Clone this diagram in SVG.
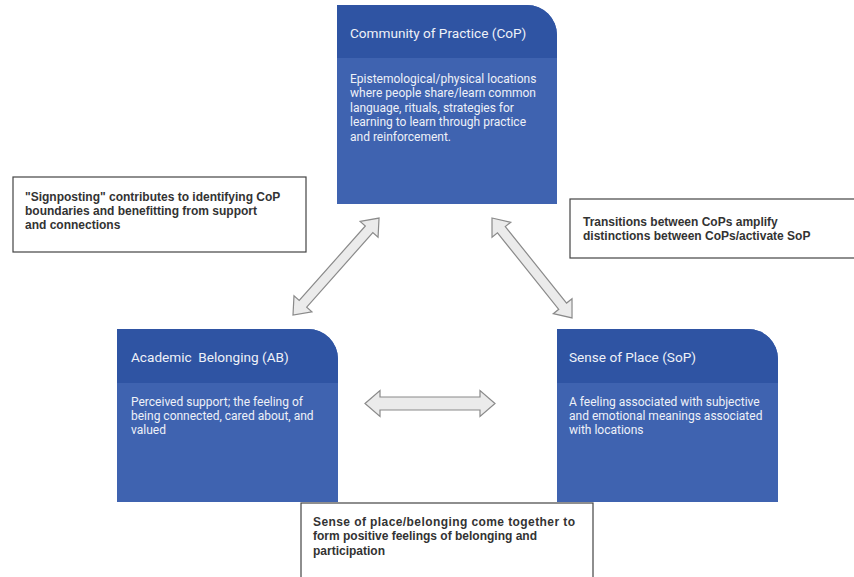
<svg xmlns="http://www.w3.org/2000/svg" width="854" height="577" viewBox="0 0 854 577">
<style>
.hdr{fill:#2f54a3}
.body{fill:#3f63b0}
.ttl{font-family:Roboto,"Liberation Sans",sans-serif;font-size:13.6px;fill:#eef1f8;white-space:pre}
.txt{font-family:Roboto,"Liberation Sans",sans-serif;font-size:12px;fill:#eef1f8}
.note rect{fill:#ffffff;stroke:#444444;stroke-width:1.2}
.note text{font-family:"Liberation Sans",Arial,sans-serif;font-size:12px;font-weight:bold;fill:#333333}
.arr{fill:#ebebeb;stroke:#8a8a8a;stroke-width:1.2;stroke-linejoin:miter}
</style>
<rect width="854" height="577" fill="#ffffff"/>

<g id="connectors">
  <polygon class="arr" transform="translate(293,315) rotate(-48.4)" points="0,0 15,-12 15,-5 114.6,-5 114.6,-12 129.6,0 114.6,12 114.6,5 15,5 15,12"/>
  <polygon class="arr" transform="translate(492,218) rotate(51.3)" points="0,0 15,-12 15,-5 113,-5 113,-12 128,0 113,12 113,5 15,5 15,12"/>
  <polygon class="arr" transform="translate(365,403.5)" points="0,0 15,-13 15,-6.5 115,-6.5 115,-13 130,0 115,13 115,6.5 15,6.5 15,13"/>
</g>

<g id="cop">
  <path class="body" d="M337,5 H527 A30,30 0 0 1 557,35 V204 H337 Z"/>
  <path class="hdr" d="M337,5 H527 A30,30 0 0 1 557,35 V58 H337 Z"/>
  <text class="ttl" x="350" y="38">Community of Practice (CoP)</text>
  <text class="txt" x="350" y="83">Epistemological/physical locations</text>
  <text class="txt" x="350" y="97">where people share/learn common</text>
  <text class="txt" x="350" y="112">language, rituals, strategies for</text>
  <text class="txt" x="350" y="126">learning to learn through practice</text>
  <text class="txt" x="350" y="141">and reinforcement.</text>
</g>

<g id="ab">
  <path class="body" d="M117,329 H308 A30,30 0 0 1 338,359 V502 H117 Z"/>
  <path class="hdr" d="M117,329 H308 A30,30 0 0 1 338,359 V383 H117 Z"/>
  <text class="ttl" x="131" y="362" xml:space="preserve">Academic  Belonging (AB)</text>
  <text class="txt" x="131" y="406">Perceived support; the feeling of</text>
  <text class="txt" x="131" y="420">being connected, cared about, and</text>
  <text class="txt" x="131" y="434">valued</text>
</g>

<g id="sop">
  <path class="body" d="M557,329 H748 A30,30 0 0 1 778,359 V502 H557 Z"/>
  <path class="hdr" d="M557,329 H748 A30,30 0 0 1 778,359 V383 H557 Z"/>
  <text class="ttl" x="569" y="362">Sense of Place (SoP)</text>
  <text class="txt" x="569" y="406">A feeling associated with subjective</text>
  <text class="txt" x="569" y="420">and emotional meanings associated</text>
  <text class="txt" x="569" y="434">with locations</text>
</g>

<g id="note-signposting" class="note">
  <rect x="13" y="177" width="293" height="75"/>
  <text x="25" y="201">"Signposting" contributes to identifying CoP</text>
  <text x="25" y="215">boundaries and benefitting from support</text>
  <text x="25" y="229">and connections</text>
</g>

<g id="note-transitions" class="note">
  <rect x="570" y="199" width="290" height="59"/>
  <text x="583" y="226">Transitions between CoPs amplify</text>
  <text x="583" y="240">distinctions between CoPs/activate SoP</text>
</g>

<g id="note-together" class="note">
  <rect x="301" y="503" width="292" height="80"/>
  <text x="313" y="526" textLength="262">Sense of place/belonging come together to</text>
  <text x="313" y="540">form positive feelings of belonging and</text>
  <text x="313" y="555">participation</text>
</g>
</svg>
